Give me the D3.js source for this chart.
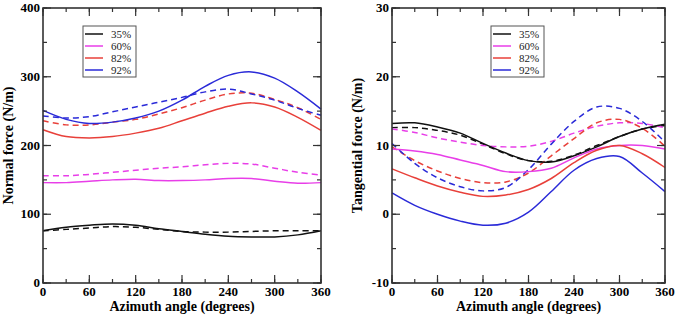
<!DOCTYPE html>
<html>
<script src="https://d3js.org/d3.v7.min.js"></script>
<style>
body { margin: 0; background: #fff; }
</style>
<body>
<svg width="679" height="316"></svg>
<script>
var angles = [0, 30, 60, 90, 120, 150, 180, 210, 240, 270, 300, 330, 360];
var labels = ["35%", "60%", "82%", "92%"];
var colors = ["#111111", "#e83ee8", "#e8403a", "#2a2ad8"];
var serif = "'Liberation Serif', 'Times New Roman', serif";

// normal force, solid and dashed per case
var normalSolid = [
  [76, 81, 84, 86, 84, 79, 75, 71, 68, 67, 67, 70, 76],
  [146, 146, 148, 150, 151, 149, 149, 150, 152, 152, 148, 145, 146],
  [223, 213, 211, 213, 218, 225, 236, 247, 257, 262, 256, 241, 222],
  [251, 238, 232, 234, 240, 250, 266, 286, 302, 307, 298, 278, 253]
];
var normalDash = [
  [76, 78, 80, 82, 81, 78, 75, 74, 74, 75, 76, 76, 76],
  [156, 156, 158, 161, 164, 167, 169, 172, 174, 173, 167, 161, 157],
  [236, 230, 230, 234, 238, 246, 255, 266, 275, 276, 267, 255, 238],
  [243, 240, 242, 249, 256, 263, 270, 278, 282, 275, 266, 254, 244]
];
// tangential force
var tangSolid = [
  [13.2, 13.3, 12.7, 11.8, 10.3, 8.9, 7.8, 7.6, 8.5, 9.8, 11.3, 12.4, 13.1],
  [9.5, 9.2, 8.7, 7.9, 7.1, 6.2, 6.2, 6.7, 8.2, 9.5, 10.0, 10.0, 9.5],
  [6.6, 5.3, 4.1, 3.2, 2.6, 2.8, 3.6, 5.2, 7.5, 9.3, 10.0, 8.8, 6.8],
  [3.1, 1.3, 0.0, -1.0, -1.6, -1.3, 0.3, 3.3, 6.4, 8.1, 8.4, 6.0, 3.3]
];
var tangDash = [
  [12.6, 12.6, 12.2, 11.5, 10.2, 8.8, 7.8, 7.7, 8.6, 10.0, 11.3, 12.4, 12.9],
  [12.4, 11.9, 11.1, 10.5, 10.0, 9.8, 9.9, 10.6, 11.8, 12.8, 13.3, 13.2, 12.6],
  [9.8, 7.8, 6.3, 5.2, 4.6, 4.7, 6.0, 8.5, 11.0, 13.3, 13.8, 12.5, 9.9],
  [10.3, 7.4, 5.3, 4.0, 3.4, 3.9, 6.5, 10.2, 13.5, 15.6, 15.4, 13.5, 10.5]
];

var xTicks = [0, 60, 120, 180, 240, 300, 360];
var svg = d3.select("svg");

function panel(opt) {
  var x = d3.scaleLinear().domain([0, 360]).range([opt.left, opt.right]);
  var y = d3.scaleLinear().domain(opt.yDomain).range([opt.bottom, opt.top]);
  var g = svg.append("g");

  var line = d3.line()
    .x(function(d, i) { return x(angles[i]); })
    .y(function(d) { return y(d); })
    .curve(d3.curveCatmullRom);

  opt.dash.forEach(function(s, i) {
    g.append("path").attr("d", line(s)).attr("fill", "none")
      .attr("stroke", colors[i]).attr("stroke-width", 1.5)
      .attr("stroke-dasharray", "6,4");
  });
  opt.solid.forEach(function(s, i) {
    g.append("path").attr("d", line(s)).attr("fill", "none")
      .attr("stroke", colors[i]).attr("stroke-width", 1.5);
  });

  // inward ticks on all four sides
  var xMinor = d3.range(0, 361, 30), yMinor = d3.range(opt.yDomain[0], opt.yDomain[1] + 0.001, opt.yStep / 2);
  function tk(len, vals, which) {
    vals.forEach(function(v) {
      if (which === "x") {
        g.append("line").attr("x1", x(v)).attr("x2", x(v)).attr("y1", opt.bottom).attr("y2", opt.bottom - len).attr("stroke", "#333").attr("stroke-width", 1.2);
        g.append("line").attr("x1", x(v)).attr("x2", x(v)).attr("y1", opt.top).attr("y2", opt.top + len).attr("stroke", "#333").attr("stroke-width", 1.2);
      } else {
        g.append("line").attr("y1", y(v)).attr("y2", y(v)).attr("x1", opt.left).attr("x2", opt.left + len).attr("stroke", "#333").attr("stroke-width", 1.2);
        g.append("line").attr("y1", y(v)).attr("y2", y(v)).attr("x1", opt.right).attr("x2", opt.right - len).attr("stroke", "#333").attr("stroke-width", 1.2);
      }
    });
  }
  tk(4, xMinor, "x");
  tk(8, xTicks, "x");
  tk(4, yMinor, "y");
  tk(8, opt.yTicks, "y");

  g.append("rect").attr("x", opt.left).attr("y", opt.top)
    .attr("width", opt.right - opt.left).attr("height", opt.bottom - opt.top)
    .attr("fill", "none").attr("stroke", "#333").attr("stroke-width", 1.6);

  g.selectAll(".xl").data(xTicks).enter().append("text")
    .attr("x", function(d) { return x(d); }).attr("y", opt.bottom + 13)
    .attr("text-anchor", "middle").attr("font-family", serif)
    .attr("font-size", 13).attr("font-weight", "bold")
    .text(function(d) { return d; });
  g.selectAll(".yl").data(opt.yTicks).enter().append("text")
    .attr("x", opt.left - 3).attr("y", function(d) { return y(d) + 4; })
    .attr("text-anchor", "end").attr("font-family", serif)
    .attr("font-size", 13).attr("font-weight", "bold")
    .text(function(d) { return d; });

  g.append("text").attr("x", (opt.left + opt.right) / 2).attr("y", 311)
    .attr("text-anchor", "middle").attr("font-family", serif)
    .attr("font-size", 14).attr("font-weight", "bold")
    .text("Azimuth angle (degrees)");
  g.append("text")
    .attr("transform", "translate(" + opt.titleX + "," + ((opt.top + opt.bottom) / 2) + ") rotate(-90)")
    .attr("text-anchor", "middle").attr("font-family", serif)
    .attr("font-size", 14).attr("font-weight", "bold")
    .text(opt.title);

  // legend
  var lg = g.append("g").attr("transform", "translate(" + opt.legX + ",26)");
  lg.append("rect").attr("width", 53).attr("height", 51)
    .attr("fill", "#fff").attr("stroke", "#555").attr("stroke-width", 1);
  labels.forEach(function(l, i) {
    var yy = 8 + i * 12;
    lg.append("line").attr("x1", 2).attr("x2", 20).attr("y1", yy).attr("y2", yy)
      .attr("stroke", colors[i]).attr("stroke-width", 1.5);
    lg.append("text").attr("x", 28).attr("y", yy + 4).attr("font-family", serif)
      .attr("font-size", 11).attr("fill", "#222").text(l);
  });
}

panel({ left: 43, right: 321, top: 8, bottom: 283, yDomain: [0, 400], yStep: 100,
  yTicks: [0, 100, 200, 300, 400], solid: normalSolid, dash: normalDash,
  title: "Normal force (N/m)", titleX: 13, legX: 83 });
panel({ left: 392, right: 665, top: 8, bottom: 283, yDomain: [-10, 30], yStep: 10,
  yTicks: [-10, 0, 10, 20, 30], solid: tangSolid, dash: tangDash,
  title: "Tangential force (N/m)", titleX: 362, legX: 491 });
</script>
</body>
</html>
